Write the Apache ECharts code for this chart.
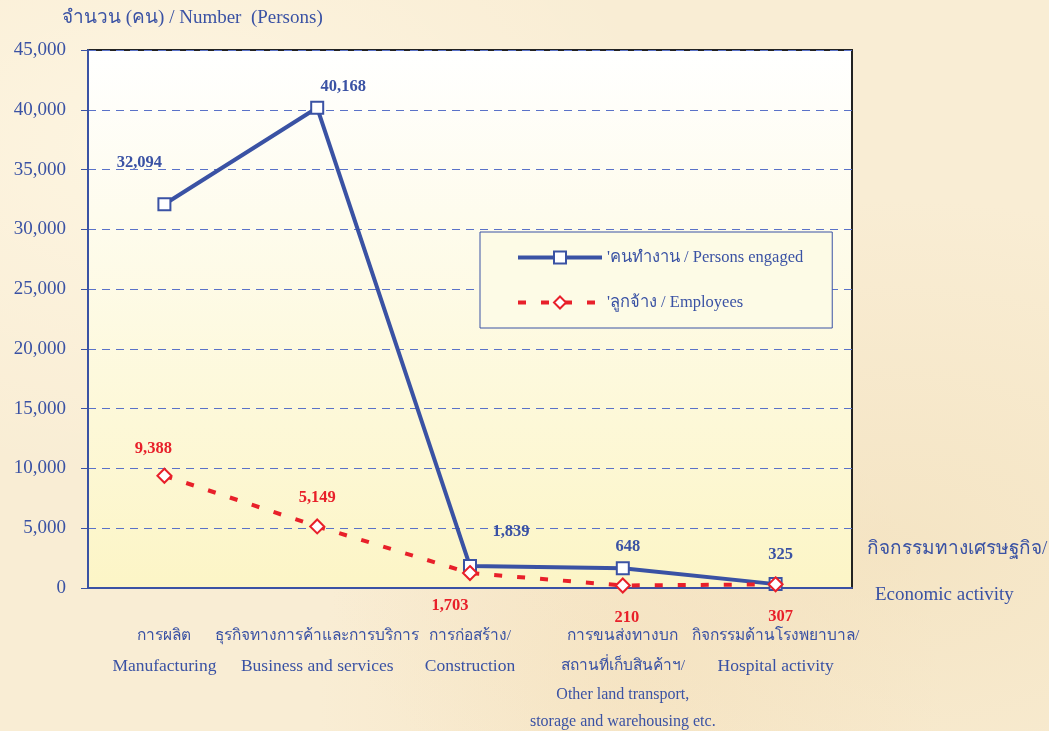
<!DOCTYPE html>
<html>
<head>
<meta charset="utf-8">
<script src="https://cdn.jsdelivr.net/npm/echarts@6/dist/echarts.min.js"></script>
<style>
  html, body { margin: 0; padding: 0; }
  body {
    width: 1049px; height: 731px; overflow: hidden;
    background:
      radial-gradient(ellipse at 15% 20%, rgba(255,248,230,0.7), rgba(255,248,230,0) 40%),
      radial-gradient(ellipse at 85% 75%, rgba(240,220,180,0.5), rgba(240,220,180,0) 45%),
      radial-gradient(ellipse at 60% 95%, rgba(245,225,190,0.6), rgba(245,225,190,0) 35%),
      #f9edd4;
  }
  #chart { width: 1049px; height: 731px; }
</style>
</head>
<body>
<div id="chart"></div>
<script>
// ข้อมูลกิจกรรมทางเศรษฐกิจ
const categories = [
  'การผลิต\nManufacturing',
  'ธุรกิจทางการค้าและการบริการ\nBusiness and services',
  'การก่อสร้าง/\nConstruction',
  'การขนส่งทางบก\nสถานที่เก็บสินค้าฯ/\nOther land transport,\nstorage and warehousing etc.',
  'กิจกรรมด้านโรงพยาบาล/\nHospital activity'
];
const yTicks = [0, 5000, 10000, 15000, 20000, 25000, 30000, 35000, 40000, 45000];

// คนทำงาน / Persons engaged
const personsName = "'คนทำงาน / Persons engaged";
const personsValues = [32094, 40168, 1839, 1648, 325];
const personsLabels = ['32,094', '40,168', '1,839', '648', '325'];

// ลูกจ้าง / Employees
const employeesName = "'ลูกจ้าง / Employees";
const employeesValues = [9388, 5149, 1250, 210, 307];
const employeesLabels = ['9,388', '5,149', '1,703', '210', '307'];

const BLUE = '#3a52a4';
const RED = '#e8202a';
const SERIF = '"Liberation Serif", "Times New Roman", serif';

// ตำแหน่งป้ายตัวเลข (ออฟเซ็ตจากจุด)
const personsOffsets = [[-25, -42], [26, -21], [41, -34], [5, -22], [5, -29]];
const employeesOffsets = [[-11, -27], [0, -29], [-20, 33], [4, 32], [5, 32]];

const chart = echarts.init(document.getElementById('chart'));

const makeData = (values, labels, offsets, color) => values.map((v, i) => ({
  value: v,
  label: {
    show: true,
    position: 'inside',
    offset: offsets[i],
    formatter: labels[i],
    color: color,
    fontFamily: SERIF,
    fontWeight: 'bold',
    fontSize: 16.5
  }
}));

chart.setOption({
  animation: false,
  backgroundColor: 'transparent',
  textStyle: { fontFamily: SERIF },
  grid: {
    left: 88, right: 197, top: 50, bottom: 143,
    show: true,
    borderColor: '#222',
    borderWidth: 2,
    backgroundColor: {
      type: 'linear', x: 0, y: 0, x2: 0, y2: 1,
      colorStops: [
        { offset: 0, color: '#ffffff' },
        { offset: 1, color: '#fcf5c6' }
      ]
    }
  },
  legend: {
    left: 480, top: 232,
    orient: 'vertical',
    backgroundColor: '#fdfbe6',
    borderColor: BLUE,
    borderWidth: 1,
    borderRadius: 0,
    padding: [17, 29, 17, 36],
    itemGap: 28,
    itemWidth: 84,
    itemHeight: 15,
    lineStyle: { width: 4 },
    textStyle: { color: BLUE, fontSize: 16.5, fontFamily: SERIF },
    data: [personsName, employeesName]
  },
  xAxis: {
    type: 'category',
    data: categories,
    boundaryGap: true,
    axisLine: { lineStyle: { color: BLUE, width: 2 } },
    axisTick: { length: 7, lineStyle: { color: BLUE, width: 1 } },
    axisLabel: {
      interval: 0,
      margin: 33,
      formatter: (val) => val.split('\n').map((line, i) => {
        if (/[\u0E00-\u0E7F]/.test(line)) return '{th|' + line + '}';
        return (i >= 2 ? '{sm|' : '{en|') + line + '}';
      }).join('\n'),
      rich: {
        th: { fontSize: 15.5, lineHeight: 30, color: BLUE, fontFamily: SERIF },
        en: { fontSize: 17.5, lineHeight: 30, color: BLUE, fontFamily: SERIF },
        sm: { fontSize: 16, lineHeight: 27, color: BLUE, fontFamily: SERIF }
      }
    },
    splitLine: { show: false }
  },
  yAxis: {
    type: 'value',
    min: yTicks[0],
    max: yTicks[yTicks.length - 1],
    interval: yTicks[1] - yTicks[0],
    axisLine: { show: true, lineStyle: { color: BLUE, width: 2 } },
    axisTick: { show: true, length: 7, lineStyle: { color: BLUE, width: 1 } },
    axisLabel: {
      margin: 22,
      color: BLUE,
      fontSize: 19,
      fontFamily: SERIF,
      formatter: (v) => v.toLocaleString('en-US')
    },
    splitLine: { lineStyle: { color: '#5a72c8', width: 1, type: [8, 6] } }
  },
  graphic: [
    {
      type: 'text', left: 62, top: 9,
      style: { text: 'จำนวน (คน) / Number  (Persons)', fill: BLUE, fontSize: 19, fontFamily: SERIF }
    },
    {
      type: 'text', left: 867, top: 540,
      style: { text: 'กิจกรรมทางเศรษฐกิจ/', fill: BLUE, fontSize: 19, fontFamily: SERIF }
    },
    {
      type: 'text', left: 875, top: 586,
      style: { text: 'Economic activity', fill: BLUE, fontSize: 19, fontFamily: SERIF }
    }
  ],
  series: [
    {
      name: personsName,
      type: 'line',
      data: makeData(personsValues, personsLabels, personsOffsets, BLUE),
      symbol: 'rect',
      symbolSize: 12,
      lineStyle: { color: BLUE, width: 4 },
      itemStyle: { color: '#ffffff', borderColor: BLUE, borderWidth: 2 },
      z: 3
    },
    {
      name: employeesName,
      type: 'line',
      data: makeData(employeesValues, employeesLabels, employeesOffsets, RED),
      symbol: 'diamond',
      symbolSize: 14,
      lineStyle: { color: RED, width: 4, type: [8, 15] },
      itemStyle: { color: '#ffffff', borderColor: RED, borderWidth: 2 },
      z: 4
    }
  ]
});
</script>
</body>
</html>
